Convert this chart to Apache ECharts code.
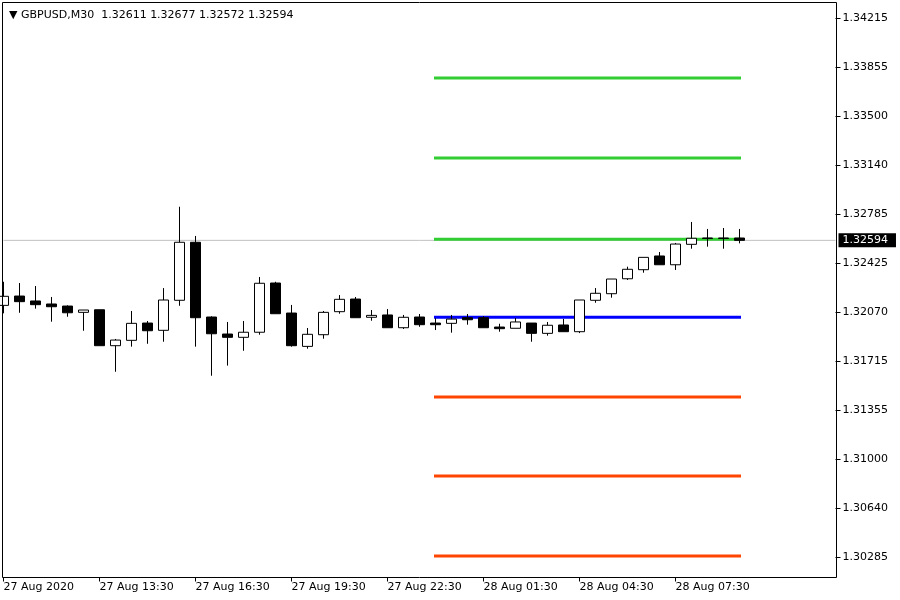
<!DOCTYPE html>
<html>
<head>
<meta charset="utf-8">
<script src="https://cdn.jsdelivr.net/npm/echarts@6/dist/echarts.min.js"></script>
<style>html,body{margin:0;padding:0;background:#fff;}#c{width:900px;height:600px;}</style>
</head>
<body>
<div id="c"></div>
<script>
// ---- data ----
const categories = [
 '27 Aug 10:30','27 Aug 11:00','27 Aug 11:30','27 Aug 12:00','27 Aug 12:30','27 Aug 13:00','27 Aug 13:30','27 Aug 14:00','27 Aug 14:30','27 Aug 15:00',
 '27 Aug 15:30','27 Aug 16:00','27 Aug 16:30','27 Aug 17:00','27 Aug 17:30','27 Aug 18:00','27 Aug 18:30','27 Aug 19:00','27 Aug 19:30','27 Aug 20:00',
 '27 Aug 20:30','27 Aug 21:00','27 Aug 21:30','27 Aug 22:00','27 Aug 22:30','27 Aug 23:00','27 Aug 23:30','28 Aug 00:00','28 Aug 00:30','28 Aug 01:00',
 '28 Aug 01:30','28 Aug 02:00','28 Aug 02:30','28 Aug 03:00','28 Aug 03:30','28 Aug 04:00','28 Aug 04:30','28 Aug 05:00','28 Aug 05:30','28 Aug 06:00',
 '28 Aug 06:30','28 Aug 07:00','28 Aug 07:30','28 Aug 08:00','28 Aug 08:30','28 Aug 09:00','28 Aug 09:30','28 Aug 10:00','28 Aug 10:30','28 Aug 11:00',
 '28 Aug 11:30','28 Aug 12:00','28 Aug 12:30'
];
const xTickLabels = ['27 Aug 2020','27 Aug 13:30','27 Aug 16:30','27 Aug 19:30','27 Aug 22:30','28 Aug 01:30','28 Aug 04:30','28 Aug 07:30'];
const xTickIndex = [0, 6, 12, 18, 24, 30, 36, 42];

const open = [1.32120,1.32188,1.32152,1.32130,1.32115,1.32069,1.32088,1.31826,1.31865,1.31991,
 1.31938,1.32157,1.32580,1.32035,1.31911,1.31887,1.31924,1.32283,1.32064,1.31821,
 1.31906,1.32074,1.32166,1.32033,1.32050,1.31957,1.32035,1.31991,1.31989,1.32030,
 1.32030,1.31962,1.31953,1.31991,1.31916,1.31977,1.31928,1.32157,1.32205,1.32314,
 1.32380,1.32480,1.32416,1.32565,1.32611,1.32611,1.32611];
const close = [1.32186,1.32147,1.32125,1.32110,1.32066,1.32086,1.31826,1.31867,1.31989,1.31935,
 1.32159,1.32580,1.32030,1.31913,1.31887,1.31924,1.32281,1.32059,1.31826,1.31909,
 1.32069,1.32164,1.32030,1.32047,1.31957,1.32033,1.31979,1.31979,1.32020,1.32015,
 1.31957,1.31950,1.31999,1.31916,1.31975,1.31928,1.32159,1.32208,1.32312,1.32383,
 1.32470,1.32416,1.32567,1.32609,1.32608,1.32608,1.32594];
const high = [1.32292,1.32283,1.32261,1.32181,1.32120,1.32086,1.32088,1.31875,1.32079,1.32006,
 1.32246,1.32839,1.32626,1.32040,1.31999,1.32006,1.32327,1.32292,1.32123,1.31955,
 1.32079,1.32195,1.32181,1.32086,1.32093,1.32050,1.32057,1.32026,1.32050,1.32057,
 1.32042,1.31986,1.32028,1.31991,1.31999,1.32021,1.32159,1.32246,1.32312,1.32402,
 1.32470,1.32509,1.32575,1.32728,1.32677,1.32684,1.32677];
const low = [1.32062,1.32066,1.32096,1.32001,1.32037,1.31935,1.31826,1.31636,1.31819,1.31840,
 1.31855,1.32117,1.31819,1.31607,1.31681,1.31789,1.31906,1.32059,1.31819,1.31804,
 1.31877,1.32059,1.32030,1.32008,1.31957,1.31948,1.31964,1.31940,1.31921,1.31979,
 1.31957,1.31928,1.31953,1.31855,1.31899,1.31928,1.31918,1.32139,1.32176,1.32305,
 1.32358,1.32416,1.32378,1.32533,1.32548,1.32533,1.32572];

const yTickValues = [1.34215,1.33855,1.33500,1.33140,1.32785,1.32425,1.32070,1.31715,1.31355,1.31000,1.30640,1.30285];
const resistanceLevels = [1.33777, 1.33194, 1.32602];
const pivotLevel = [1.32033];
const supportLevels = [1.31452, 1.30876, 1.30293];
const levelFrom = 27, levelTo = 46;
const bidPrice = 1.32594;
const titleText = 'GBPUSD,M30  1.32611 1.32677 1.32572 1.32594';

// ---- chart ----
const FONT = 'DejaVu Sans';
const ohlc = open.map((o, i) => [o, close[i], low[i], high[i]]);

function levelSeries(v, color) {
  return {
    type: 'line', data: [[levelFrom, v], [levelTo, v]], symbol: 'none', silent: true, z: 3,
    lineStyle: { color: color, width: 3, cap: 'square' }, animation: false
  };
}

const series = [
  {
    type: 'line', data: [[0, bidPrice], [categories.length - 1, bidPrice]], symbol: 'none', silent: true, z: 1,
    lineStyle: { color: '#c0c0c0', width: 1 },
    endLabel: {
      show: true, distance: 3, formatter: () => bidPrice.toFixed(5),
      color: '#fff', backgroundColor: '#000', padding: [2, 8, 1, 4],
      fontFamily: FONT, fontSize: 11
    }
  }
];
resistanceLevels.forEach(v => series.push(levelSeries(v, '#32cd32')));
pivotLevel.forEach(v => series.push(levelSeries(v, '#0000ff')));
supportLevels.forEach(v => series.push(levelSeries(v, '#ff4500')));
series.push({
  type: 'candlestick', data: ohlc, barWidth: 10, z: 5,
  itemStyle: { color: '#ffffff', color0: '#000000', borderColor: '#000000', borderColor0: '#000000', borderWidth: 1 }
});

const chart = echarts.init(document.getElementById('c'), null, { renderer: 'canvas' });
chart.setOption({
  animation: false,
  backgroundColor: '#ffffff',
  textStyle: { fontFamily: FONT },
  title: {
    text: '▼ ' + titleText, left: 4, top: 5,
    textStyle: { fontFamily: FONT, fontSize: 11, fontWeight: 'normal', color: '#000' }
  },
  grid: { left: 3.5, right: 64.5, top: 2.5, bottom: 22.5, show: false },
  xAxis: {
    type: 'category', data: categories, boundaryGap: false,
    axisLine: { show: false },
    axisTick: { show: true, length: 4, lineStyle: { color: '#000' },
      interval: (idx) => xTickIndex.indexOf(idx) >= 0 },
    axisLabel: { show: true, margin: 4, align: 'left', color: '#000', fontFamily: FONT, fontSize: 11,
      interval: (idx) => xTickIndex.indexOf(idx) >= 0,
      formatter: (val, idx) => { const k = xTickIndex.indexOf(idx); return k >= 0 ? xTickLabels[k] : ''; } },
    splitLine: { show: false }
  },
  yAxis: {
    type: 'value', position: 'right', min: 1.30136, max: 1.34328, scale: true,
    axisLine: { show: false },
    axisTick: { show: true, length: 5, customValues: yTickValues, lineStyle: { color: '#000' } },
    axisLabel: { show: true, margin: 7, color: '#000', fontFamily: FONT, fontSize: 11,
      customValues: yTickValues, formatter: (v) => v.toFixed(5) },
    splitLine: { show: false }
  },
  graphic: [{
    type: 'rect', silent: true, z: 100,
    shape: { x: 2.5, y: 2.5, width: 834, height: 575 },
    style: { fill: 'none', stroke: '#000', lineWidth: 1 }
  }],
  series: series
});
</script>
</body>
</html>
